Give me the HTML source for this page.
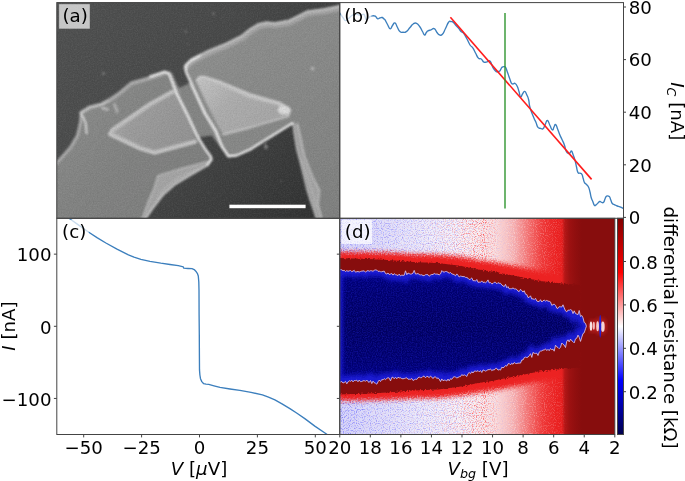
<!DOCTYPE html>
<html><head><meta charset="utf-8"><title>figure</title>
<style>
html,body{margin:0;padding:0;background:#fff;}
svg{display:block;}
text{font-family:"DejaVu Sans","Liberation Sans",sans-serif;font-size:18.2px;fill:#000;}
.it{font-style:oblique;}
</style></head><body>
<svg width="685" height="481" viewBox="0 0 685 481">
<defs>
<clipPath id="ca"><rect x="56.8" y="2.6" width="282.95" height="215.70000000000002"/></clipPath>
<clipPath id="cb"><rect x="339.75" y="2.6" width="283.75" height="215.70000000000002"/></clipPath>
<clipPath id="cc"><rect x="56.8" y="218.3" width="282.95" height="216.2"/></clipPath>
<clipPath id="cd"><rect x="339.75" y="218.3" width="275.04999999999995" height="216.2"/></clipPath>
<filter id="b1" x="-20%" y="-20%" width="140%" height="140%"><feGaussianBlur stdDeviation="0.95"/></filter>
<filter id="b2" x="-20%" y="-20%" width="140%" height="140%"><feGaussianBlur stdDeviation="1.6"/></filter>
<filter id="b4" x="-20%" y="-20%" width="140%" height="140%"><feGaussianBlur stdDeviation="4"/></filter>
</defs>
<rect width="685" height="481" fill="#fff"/>

<g clip-path="url(#ca)">
<defs>
<linearGradient id="gbg" x1="57" y1="0" x2="340" y2="218" gradientUnits="userSpaceOnUse"><stop offset="0" stop-color="#505151"/><stop offset="0.45" stop-color="#474848"/><stop offset="0.75" stop-color="#3a3b3b"/><stop offset="1" stop-color="#2e2f2f"/></linearGradient>
<linearGradient id="gel" x1="57" y1="80" x2="200" y2="218" gradientUnits="userSpaceOnUse"><stop offset="0" stop-color="#8d8e8d"/><stop offset="0.5" stop-color="#828382"/><stop offset="1" stop-color="#7c7d7c"/></linearGradient>
<linearGradient id="ger" x1="190" y1="20" x2="340" y2="218" gradientUnits="userSpaceOnUse"><stop offset="0" stop-color="#8f908f"/><stop offset="1" stop-color="#808180"/></linearGradient>
<linearGradient id="gtl" x1="110" y1="100" x2="190" y2="150" gradientUnits="userSpaceOnUse"><stop offset="0" stop-color="#acacac"/><stop offset="0.35" stop-color="#9c9c9c"/><stop offset="1" stop-color="#929292"/></linearGradient>
<linearGradient id="gtr" x1="200" y1="78" x2="260" y2="135" gradientUnits="userSpaceOnUse"><stop offset="0" stop-color="#c2c2c2"/><stop offset="0.45" stop-color="#adadad"/><stop offset="1" stop-color="#a6a6a6"/></linearGradient>
<filter id="sgr" x="0" y="0" width="100%" height="100%"><feTurbulence type="fractalNoise" baseFrequency="0.75" numOctaves="2" seed="4"/><feColorMatrix type="matrix" values="0 0 0 0 0  0 0 0 0 0  0 0 0 0 0  2.5 0 0 0 -0.9" result="n"/><feComposite in="SourceGraphic" in2="n" operator="in"/></filter>
<filter id="sgr2" x="0" y="0" width="100%" height="100%"><feTurbulence type="fractalNoise" baseFrequency="0.75" numOctaves="2" seed="14"/><feColorMatrix type="matrix" values="0 0 0 0 0  0 0 0 0 0  0 0 0 0 0  0 2.5 0 0 -0.9" result="n"/><feComposite in="SourceGraphic" in2="n" operator="in"/></filter>
</defs>
<rect x="54.8" y="0.6000000000000001" width="286.95" height="219.70000000000002" fill="url(#gbg)"/>
<g filter="url(#b1)">
<polygon points="150.0,110.0 178.3,88.3 189.9,83.0 200.0,80.0 292.0,122.0 292.0,124.0 232.0,155.0 224.0,152.0 211.6,135.5 199.9,137.0 170.0,168.0" fill="#848584"/>
<polygon points="50.0,172.0 56.0,163.0 62.0,156.0 70.0,147.0 77.0,135.0 80.0,122.0 80.6,112.2 89.9,106.6 101.7,103.4 117.8,93.8 131.4,82.0 150.0,76.6 165.0,71.6 169.5,73.5 176.6,90.0 187.4,110.0 196.6,131.6 204.9,148.3 210.7,156.6 212.0,159.5 207.6,166.0 190.0,176.3 175.5,185.0 163.8,195.3 153.6,208.4 147.0,217.9 144.5,222.0 50.0,222.0" fill="url(#gel)"/>
<polygon points="184.3,65.5 191.6,58.3 208.3,49.9 224.9,43.3 241.6,35.0 249.9,28.3 258.2,23.3 266.5,21.5 274.8,22.2 288.6,19.8 307.4,10.4 324.0,8.3 345.0,4.5 345.0,222.0 317.0,222.0 313.5,211.0 310.0,201.0 306.6,190.0 303.5,177.0 300.0,163.0 296.5,150.0 294.0,135.0 292.4,123.0 249.8,150.0 236.5,155.8 228.2,156.8 221.6,148.3 216.6,136.6 211.6,126.6 201.6,110.0 193.3,88.3 185.8,71.6" fill="url(#ger)"/>
<polygon points="211.6,158.0 212.0,159.5 207.6,166.0 190.0,176.3 175.5,185.0 163.8,195.3 153.6,208.4 147.0,217.9 144.5,222.0 139.0,222.0 142.6,217.9 148.5,201.0 154.3,188.0 158.0,175.5 182.8,168.2 207.6,161.7" fill="#a4a4a4"/>
<polyline points="139.0,222.0 142.6,217.9 148.5,201.0 154.3,188.0 158.0,175.5 182.8,168.2 207.6,161.7" fill="none" stroke="#bcbcbc" stroke-width="1.3" stroke-linecap="round" stroke-linejoin="round" opacity="1"/>
<polyline points="211.4,158.9 207.0,165.4 189.4,175.7 174.9,184.4 163.2,194.7 153.0,207.8 146.4,217.3 143.9,221.4" fill="none" stroke="#cacaca" stroke-width="1.7" stroke-linecap="round" stroke-linejoin="round" opacity="1"/>
<polyline points="200.0,168.0 180.0,177.0 166.0,187.0 157.0,199.0" fill="none" stroke="#b8b8b8" stroke-width="1.2" stroke-linecap="round" stroke-linejoin="round" opacity="1"/>
<polyline points="56.0,163.5 62.5,156.5 70.5,147.5 77.5,135.5 80.6,122.0 81.2,113.0" fill="none" stroke="#acacac" stroke-width="3.0" stroke-linecap="round" stroke-linejoin="round" opacity="1"/>
<polyline points="81.0,112.6 89.9,107.2 101.7,104.2 110.0,99.6" fill="none" stroke="#c2c2c2" stroke-width="3.2" stroke-linecap="round" stroke-linejoin="round" opacity="1"/>
<polyline points="110.0,99.8 117.8,94.6 131.4,83.4 150.0,78.0 165.0,73.0" fill="none" stroke="#acacac" stroke-width="3.8" stroke-linecap="round" stroke-linejoin="round" opacity="1"/>
<polyline points="81.2,114.0 84.0,119.0 85.8,124.0 86.6,133.3" fill="none" stroke="#dcdcdc" stroke-width="1.7" stroke-linecap="round" stroke-linejoin="round" opacity="1"/>
<polyline points="102.5,108.0 107.5,109.5" fill="none" stroke="#c2c2c2" stroke-width="2.4" stroke-linecap="round" stroke-linejoin="round" opacity="0.9"/>
<polyline points="114.5,104.5 117.2,111.8" fill="none" stroke="#bebebe" stroke-width="2.2" stroke-linecap="round" stroke-linejoin="round" opacity="0.9"/>
<polyline points="186.1,67.8 192.5,61.5 209.2,53.1 225.8,46.5 242.5,38.2 250.8,31.5 259.1,26.5 267.4,24.7 275.7,25.4 289.5,23.0 308.3,13.6 324.9,11.5 342.9,7.8" fill="none" stroke="#a6a6a6" stroke-width="5.0" stroke-linecap="round" stroke-linejoin="round" opacity="1"/>
<polyline points="185.2,65.6 191.6,59.3 208.3,50.9 224.9,44.3 241.6,36.0 249.9,29.3 258.2,24.3 266.5,22.5 274.8,23.2 288.6,20.8 307.4,11.4 324.0,9.3 342.0,5.6" fill="none" stroke="#c8c8c8" stroke-width="2.0" stroke-linecap="round" stroke-linejoin="round" opacity="1"/>
<polygon points="292.4,123.0 294.0,135.0 296.5,150.0 300.0,163.0 303.5,177.0 306.6,190.0 310.0,201.0 313.5,211.0 317.0,222.0 323.0,222.0 321.5,217.5 318.0,205.0 319.4,190.0 312.3,176.3 304.3,155.7 301.0,140.0 297.5,124.0" fill="#a2a2a2"/>
<polyline points="292.9,123.0 294.5,135.0 297.0,150.0 300.5,163.0 304.0,177.0 307.1,190.0 310.5,201.0 314.0,211.0 317.5,222.0" fill="none" stroke="#b8b8b8" stroke-width="1.4" stroke-linecap="round" stroke-linejoin="round" opacity="1"/>
<polyline points="321.5,217.5 318.0,205.0 319.4,190.0 312.3,176.3 304.3,155.7 301.0,140.0 297.5,124.0" fill="none" stroke="#c4c4c4" stroke-width="1.3" stroke-linecap="round" stroke-linejoin="round" opacity="1"/>
<polyline points="302.0,160.0 308.0,178.0 314.0,196.0 316.0,208.0" fill="none" stroke="#b6b6b6" stroke-width="1.1" stroke-linecap="round" stroke-linejoin="round" opacity="1"/>
<polyline points="203.0,110.0 212.5,127.0 217.6,137.0 222.6,148.0 228.6,155.5" fill="none" stroke="#a8a8a8" stroke-width="2.4" stroke-linecap="round" stroke-linejoin="round" opacity="1"/>
<polygon points="165.0,71.6 169.5,71.0 172.4,73.6 176.0,82.0 179.5,89.0 181.0,93.5 176.6,93.3 169.3,74.1" fill="#8e8e8e"/>
<polygon points="108.0,134.0 112.0,129.0 150.0,103.3 172.5,90.8 176.6,93.3 188.3,116.6 196.0,142.0 154.5,153.3 148.0,151.5 140.0,149.0" fill="url(#gtl)"/>
<polygon points="195.8,80.0 199.9,76.6 205.0,76.8 219.9,81.6 249.8,94.0 279.8,102.6 290.6,109.8 288.3,116.4 249.8,127.8 223.2,134.6 216.0,122.0 204.9,100.0" fill="url(#gtr)"/>
<polyline points="195.0,141.5 154.5,152.5 140.0,148.0 110.5,134.0 113.0,130.0 150.0,104.5 172.5,92.0" fill="none" stroke="#bcbcbc" stroke-width="4.2" stroke-linecap="round" stroke-linejoin="round" opacity="1"/>
<polyline points="196.0,142.0 154.5,153.3 140.0,149.0 109.0,134.5 112.0,129.0 150.0,103.3 172.5,90.8" fill="none" stroke="#cfcfcf" stroke-width="1.5" stroke-linecap="round" stroke-linejoin="round" opacity="1"/>
<polyline points="198.0,81.0 200.5,78.3 205.0,78.5 219.9,83.2 249.8,96.5 279.8,104.0 287.5,108.8" fill="none" stroke="#c0c0c0" stroke-width="3.6" stroke-linecap="round" stroke-linejoin="round" opacity="1"/>
<polyline points="197.0,80.0 199.9,76.8 205.0,77.0 219.9,81.8 249.8,94.3 279.8,102.9 290.2,110.0 288.0,116.2" fill="none" stroke="#d6d6d6" stroke-width="1.6" stroke-linecap="round" stroke-linejoin="round" opacity="1"/>
<polyline points="288.0,116.2 249.8,127.6 223.2,134.4" fill="none" stroke="#c8c8c8" stroke-width="1.6" stroke-linecap="round" stroke-linejoin="round" opacity="1"/>
<ellipse cx="284" cy="110" rx="6.2" ry="4.6" fill="#dadada"/>
<polyline points="150.0,76.6 165.0,71.6 169.3,74.1 176.6,93.3 188.3,116.6 196.6,134.9 204.9,148.3 210.9,156.6 211.6,159.5 207.6,165.2" fill="none" stroke="#f2f2f2" stroke-width="2.1" stroke-linecap="round" stroke-linejoin="round" opacity="1"/>
<polyline points="199.9,55.5 190.0,61.0 185.8,65.3 185.8,71.6 193.3,88.3 204.9,113.2 216.0,131.0 221.6,146.0 228.2,156.4 236.5,155.6 249.8,149.8 292.4,123.4" fill="none" stroke="#f2f2f2" stroke-width="2.1" stroke-linecap="round" stroke-linejoin="round" opacity="1"/>
</g>
<g filter="url(#b1)">
<circle cx="103.4" cy="73.6" r="1.5" fill="#7c7c7c"/>
<circle cx="186" cy="31.6" r="1.4" fill="#6c6c6c"/>
<circle cx="187.5" cy="44.6" r="1.0" fill="#666"/>
<circle cx="213.5" cy="13.7" r="1.5" fill="#707070"/>
<circle cx="312.6" cy="68.6" r="1.9" fill="#b4b4b4"/>
<circle cx="266" cy="147" r="2.0" fill="#808080"/>
<circle cx="265" cy="143.2" r="1.3" fill="#767676"/>
<circle cx="281" cy="181" r="1.0" fill="#5a5a5a"/>
</g>
<rect x="56.8" y="2.6" width="282.95" height="215.70000000000002" fill="#fff" filter="url(#sgr)" opacity="0.055"/>
<rect x="56.8" y="2.6" width="282.95" height="215.70000000000002" fill="#000" filter="url(#sgr2)" opacity="0.055"/>
<rect x="229.4" y="204.7" width="76.2" height="3.5" fill="#fff"/>
</g>
<defs>
<linearGradient id="hbg" x1="339.75" y1="0" x2="614.8" y2="0" gradientUnits="userSpaceOnUse">
<stop offset="0" stop-color="#d6d6fa"/><stop offset="0.15" stop-color="#e0e0fb"/><stop offset="0.3" stop-color="#ececfc"/><stop offset="0.42" stop-color="#f6f3fa"/><stop offset="0.5" stop-color="#fbf0f0"/><stop offset="0.57" stop-color="#fadede"/><stop offset="0.635" stop-color="#f6acac"/><stop offset="0.69" stop-color="#f26c6c"/><stop offset="0.74" stop-color="#ee3636"/><stop offset="0.79" stop-color="#ea2020"/><stop offset="1" stop-color="#ea1c1c"/></linearGradient>
<linearGradient id="hdk" x1="558" y1="0" x2="614.8" y2="0" gradientUnits="userSpaceOnUse">
<stop offset="0" stop-color="#870d0d" stop-opacity="0"/><stop offset="0.07" stop-color="#870d0d" stop-opacity="0.05"/><stop offset="0.12" stop-color="#870d0d" stop-opacity="0.55"/><stop offset="0.2" stop-color="#870d0d" stop-opacity="0.78"/><stop offset="0.3" stop-color="#870d0d" stop-opacity="0.9"/><stop offset="0.42" stop-color="#870d0d" stop-opacity="1"/><stop offset="1" stop-color="#870d0d" stop-opacity="1"/></linearGradient>
<linearGradient id="hbl" x1="0" y1="270" x2="0" y2="382.4" gradientUnits="userSpaceOnUse">
<stop offset="0" stop-color="#000080"/><stop offset="0.2" stop-color="#00006c"/><stop offset="0.5" stop-color="#00005e"/><stop offset="0.8" stop-color="#00006c"/><stop offset="1" stop-color="#000080"/></linearGradient>
<linearGradient id="cbar" x1="0" y1="434.5" x2="0" y2="218.3" gradientUnits="userSpaceOnUse">
<stop offset="0" stop-color="#00004c"/><stop offset="0.25" stop-color="#0000ff"/><stop offset="0.5" stop-color="#ffffff"/><stop offset="0.75" stop-color="#ff0000"/><stop offset="1" stop-color="#800000"/></linearGradient>
<filter id="nz1" x="0" y="0" width="100%" height="100%"><feTurbulence type="fractalNoise" baseFrequency="0.85" numOctaves="1" seed="5"/><feColorMatrix type="matrix" values="0 0 0 0 0  0 0 0 0 0  0 0 0 0 0  3.2 0 0 0 -1.55" result="n"/><feComposite in="SourceGraphic" in2="n" operator="in"/></filter>
<filter id="nz2" x="0" y="0" width="100%" height="100%"><feTurbulence type="fractalNoise" baseFrequency="0.9" numOctaves="1" seed="11"/><feColorMatrix type="matrix" values="0 0 0 0 0  0 0 0 0 0  0 0 0 0 0  0 3.2 0 0 -1.55" result="n"/><feComposite in="SourceGraphic" in2="n" operator="in"/></filter>
<linearGradient id="nzb" x1="339.75" y1="0" x2="614.8" y2="0" gradientUnits="userSpaceOnUse"><stop offset="0" stop-color="#7070ff" stop-opacity="1"/><stop offset="0.12" stop-color="#8080ff" stop-opacity="0.75"/><stop offset="0.4" stop-color="#8888ff" stop-opacity="0.6"/><stop offset="0.6" stop-color="#9090ff" stop-opacity="0.2"/><stop offset="0.7" stop-color="#9090ff" stop-opacity="0"/></linearGradient>
<linearGradient id="nzr" x1="339.75" y1="0" x2="614.8" y2="0" gradientUnits="userSpaceOnUse"><stop offset="0" stop-color="#ff5050" stop-opacity="0.06"/><stop offset="0.3" stop-color="#ff4040" stop-opacity="0.18"/><stop offset="0.42" stop-color="#ff3838" stop-opacity="0.4"/><stop offset="0.52" stop-color="#ff3030" stop-opacity="0.85"/><stop offset="0.62" stop-color="#ffffff" stop-opacity="0.45"/><stop offset="0.8" stop-color="#ffffff" stop-opacity="0.22"/><stop offset="0.84" stop-color="#ffffff" stop-opacity="0"/></linearGradient>
<filter id="hb3" x="-10%" y="-10%" width="120%" height="120%"><feGaussianBlur stdDeviation="2.0" result="g"/><feTurbulence type="fractalNoise" baseFrequency="0.7" numOctaves="1" seed="2" result="t"/><feDisplacementMap in="g" in2="t" scale="7" xChannelSelector="R" yChannelSelector="G"/></filter>
<filter id="hb1" x="-10%" y="-10%" width="120%" height="120%"><feGaussianBlur stdDeviation="0.7" result="g"/><feTurbulence type="fractalNoise" baseFrequency="0.6" numOctaves="1" seed="9" result="t"/><feDisplacementMap in="g" in2="t" scale="4.5" xChannelSelector="R" yChannelSelector="G"/></filter>
<filter id="hbr" x="-5%" y="-10%" width="110%" height="120%"><feGaussianBlur stdDeviation="2.2"/></filter>
<filter id="nz3" x="0" y="0" width="100%" height="100%"><feTurbulence type="fractalNoise" baseFrequency="0.8" numOctaves="1" seed="21"/><feColorMatrix type="matrix" values="0 0 0 0 0  0 0 0 0 0  0 0 0 0 0  0 0 2.6 0 -1.0" result="n"/><feComposite in="SourceGraphic" in2="n" operator="in"/></filter>
</defs>
<g clip-path="url(#cd)">
<rect x="339.75" y="218.3" width="275.04999999999995" height="216.2" fill="url(#hbg)"/>
<rect x="339.75" y="218.3" width="275.04999999999995" height="216.2" fill="url(#nzb)" filter="url(#nz1)"/>
<rect x="339.75" y="218.3" width="275.04999999999995" height="216.2" fill="url(#nzr)" filter="url(#nz2)"/>
<polygon points="338.0,251.7 363.0,252.0 388.0,252.6 413.0,254.0 438.0,254.4 463.0,257.1 478.0,260.0 490.5,261.5 503.0,263.6 515.5,265.9 528.0,268.4 540.5,270.9 553.0,272.2 563.0,273.4 575.0,274.3 580.0,276.0 580.0,376.4 575.0,378.1 563.0,379.0 553.0,380.2 540.5,381.5 528.0,384.0 515.5,386.5 503.0,388.8 490.5,390.9 478.0,392.4 463.0,395.3 438.0,398.0 413.0,398.4 388.0,399.8 363.0,400.4 338.0,400.7" fill="#ec2424" filter="url(#hb3)"/>
<polygon points="338.0,257.9 363.0,258.7 388.0,259.9 413.0,261.9 438.0,262.9 463.0,266.2 478.0,269.4 490.5,271.2 503.0,273.6 515.5,276.1 528.0,278.6 540.5,281.1 553.0,282.4 563.0,283.6 575.0,284.5 580.0,285.0 580.0,367.4 575.0,367.9 563.0,368.8 553.0,370.0 540.5,371.3 528.0,373.8 515.5,376.3 503.0,378.8 490.5,381.2 478.0,383.0 463.0,386.2 438.0,389.5 413.0,390.5 388.0,392.5 363.0,393.7 338.0,394.5" fill="#870d0d" filter="url(#hb1)"/>
<rect x="558" y="218.3" width="56.799999999999955" height="216.2" fill="url(#hdk)"/>
<defs><polygon id="bp" points="338.0,270.0 339.2,268.4 340.5,269.6 341.8,269.8 343.0,270.8 344.2,270.3 345.5,271.5 346.8,270.6 348.0,271.3 349.2,270.9 350.5,270.5 351.8,271.7 353.0,271.1 354.2,270.3 355.5,272.2 356.8,271.7 358.0,271.5 359.2,272.0 360.5,271.5 361.8,271.1 363.0,271.0 364.2,270.8 365.5,272.2 366.8,271.1 368.0,270.5 369.2,271.3 370.5,270.7 371.8,270.8 373.0,271.3 374.2,270.3 375.5,269.9 376.8,270.1 378.0,271.4 379.2,271.2 380.5,271.7 381.8,271.8 383.0,271.4 384.2,271.1 385.5,273.5 386.8,274.0 388.0,273.0 389.2,274.5 390.5,274.0 391.8,273.5 393.0,275.1 394.2,273.7 395.5,274.7 396.8,274.9 398.0,275.6 399.2,274.1 400.5,275.9 401.8,275.1 403.0,275.3 404.2,275.3 405.5,270.8 406.8,274.8 408.0,273.0 409.2,273.6 410.5,274.1 411.8,273.9 413.0,273.1 414.2,270.4 415.5,274.0 416.8,273.9 418.0,273.5 419.2,274.5 420.5,274.9 421.8,274.8 423.0,275.6 424.2,275.6 425.5,274.7 426.8,274.6 428.0,274.7 429.2,276.2 430.5,275.1 431.8,274.5 433.0,274.5 434.2,273.5 435.5,274.1 436.8,274.1 438.0,274.2 439.2,274.9 440.5,273.9 441.8,270.6 443.0,271.8 444.2,272.1 445.5,271.5 446.8,271.6 448.0,272.4 449.2,273.2 450.5,272.5 451.8,273.9 453.0,274.2 454.2,274.7 455.5,275.8 456.8,273.9 458.0,275.3 459.2,277.0 460.5,276.1 461.8,276.4 463.0,276.7 464.2,276.5 465.5,277.4 466.8,277.5 468.0,278.2 469.2,279.5 470.5,279.1 471.8,277.9 473.0,280.7 474.2,280.6 475.5,281.1 476.8,279.5 478.0,282.3 479.2,282.1 480.5,282.3 481.8,280.9 483.0,282.5 484.2,282.1 485.5,282.8 486.8,281.8 488.0,279.9 489.2,282.9 490.5,282.6 491.8,283.8 493.0,283.5 494.2,282.3 495.5,282.3 496.8,283.8 498.0,282.6 499.2,283.3 500.5,283.3 501.8,285.0 503.0,285.8 504.2,286.7 505.5,284.3 506.8,287.8 508.0,286.6 509.2,288.8 510.5,288.7 511.8,288.7 513.0,287.9 514.2,288.9 515.5,288.9 516.8,289.5 518.0,291.1 519.2,291.6 520.5,289.3 521.8,290.7 523.0,292.1 524.2,290.7 525.5,294.2 526.8,294.5 528.0,297.5 529.2,297.4 530.5,295.8 531.8,299.1 533.0,298.7 534.2,299.7 535.5,298.3 536.8,301.0 538.0,301.6 539.2,301.5 540.5,299.7 541.8,302.0 543.0,300.8 544.2,300.1 545.5,301.1 546.8,300.4 548.0,301.2 549.2,301.3 550.5,301.9 551.8,305.5 553.0,304.5 554.2,304.2 555.5,305.3 556.8,308.2 558.0,308.4 559.2,306.7 560.5,306.8 561.8,307.0 563.0,304.8 564.2,307.9 565.5,310.9 566.8,311.9 568.0,310.1 569.2,310.3 570.5,309.6 571.8,310.3 573.0,313.6 574.2,310.8 575.5,313.5 576.8,314.1 578.0,314.6 579.2,310.5 580.5,316.5 581.8,315.5 583.0,317.8 584.2,322.5 585.5,323.3 586.4,326.2 585.5,328.8 584.2,332.8 583.0,333.5 581.8,337.1 580.5,341.4 579.2,337.2 578.0,335.1 576.8,338.2 575.5,338.8 574.2,342.9 573.0,341.6 571.8,340.8 570.5,339.1 569.2,341.9 568.0,339.8 566.8,341.2 565.5,347.5 564.2,345.1 563.0,344.3 561.8,343.0 560.5,347.2 559.2,348.7 558.0,347.5 556.8,346.8 555.5,345.2 554.2,351.2 553.0,349.1 551.8,349.7 550.5,348.5 549.2,350.7 548.0,349.3 546.8,350.6 545.5,348.9 544.2,350.0 543.0,350.0 541.8,350.9 540.5,351.1 539.2,352.1 538.0,355.5 536.8,353.2 535.5,353.4 534.2,353.3 533.0,352.4 531.8,357.4 530.5,353.7 529.2,355.8 528.0,357.1 526.8,357.5 525.5,357.1 524.2,357.7 523.0,360.0 521.8,359.9 520.5,363.1 519.2,363.1 518.0,363.1 516.8,363.5 515.5,363.4 514.2,362.5 513.0,364.3 511.8,363.2 510.5,364.9 509.2,363.4 508.0,363.9 506.8,366.2 505.5,365.5 504.2,367.2 503.0,367.8 501.8,367.2 500.5,370.1 499.2,369.5 498.0,370.2 496.8,368.4 495.5,368.4 494.2,370.1 493.0,369.7 491.8,370.7 490.5,368.9 489.2,369.8 488.0,369.6 486.8,370.5 485.5,371.1 484.2,370.4 483.0,369.9 481.8,372.5 480.5,370.6 479.2,371.8 478.0,370.6 476.8,371.4 475.5,371.1 474.2,371.2 473.0,373.0 471.8,371.7 470.5,373.7 469.2,372.5 468.0,373.6 466.8,376.5 465.5,375.5 464.2,374.8 463.0,375.6 461.8,374.5 460.5,376.6 459.2,376.7 458.0,377.5 456.8,377.9 455.5,377.1 454.2,376.7 453.0,377.4 451.8,379.3 450.5,378.7 449.2,380.9 448.0,379.0 446.8,381.0 445.5,380.3 444.2,380.1 443.0,380.7 441.8,378.9 440.5,381.6 439.2,379.0 438.0,377.9 436.8,378.5 435.5,376.8 434.2,377.0 433.0,378.6 431.8,377.1 430.5,376.0 429.2,377.7 428.0,376.6 426.8,376.3 425.5,377.8 424.2,376.2 423.0,376.3 421.8,377.6 420.5,377.7 419.2,377.1 418.0,377.7 416.8,379.4 415.5,379.2 414.2,379.8 413.0,380.5 411.8,378.5 410.5,379.3 409.2,379.2 408.0,379.2 406.8,377.8 405.5,378.1 404.2,378.5 403.0,378.8 401.8,378.6 400.5,377.8 399.2,377.9 398.0,377.2 396.8,378.8 395.5,377.2 394.2,378.8 393.0,377.2 391.8,377.4 390.5,380.9 389.2,378.1 388.0,377.7 386.8,378.4 385.5,379.6 384.2,378.6 383.0,379.9 381.8,379.5 380.5,381.5 379.2,380.1 378.0,381.8 376.8,384.2 375.5,383.2 374.2,382.7 373.0,381.1 371.8,383.6 370.5,380.5 369.2,382.4 368.0,381.7 366.8,380.0 365.5,381.3 364.2,380.6 363.0,380.8 361.8,381.5 360.5,381.7 359.2,380.0 358.0,381.8 356.8,380.2 355.5,380.6 354.2,380.5 353.0,381.9 351.8,380.2 350.5,381.3 349.2,380.7 348.0,381.9 346.8,383.8 345.5,381.4 344.2,382.5 343.0,383.0 341.8,381.5 340.5,382.0 339.2,382.9 338.0,383.5"/><clipPath id="cblue"><use href="#bp"/></clipPath></defs>
<use href="#bp" fill="url(#hbl)"/>
<g clip-path="url(#cblue)"><use href="#bp" fill="none" stroke="#1a1ad8" stroke-width="9" filter="url(#hbr)" opacity="0.95"/></g>
<use href="#bp" fill="#2424d8" filter="url(#nz3)" opacity="0.4"/>
<use href="#bp" fill="none" stroke="#e0bcd8" stroke-width="0.9" stroke-linejoin="round"/>
<ellipse cx="592.3" cy="326.2" rx="3.6" ry="6.5" fill="#e43030" opacity="0.55" filter="url(#hbr)"/>
<ellipse cx="600.5" cy="326.2" rx="6" ry="8" fill="#e43030" opacity="0.6" filter="url(#hbr)"/>
<ellipse cx="591.0" cy="326.2" rx="1.3" ry="4.6" fill="#f8e2e2"/>
<ellipse cx="593.8" cy="325.7" rx="1.1" ry="4.0" fill="#f2bcbc"/>
<ellipse cx="597.6" cy="326.2" rx="1.4" ry="5.0" fill="#f4cccc"/>
<ellipse cx="602.8" cy="326.8" rx="1.9" ry="5.2" fill="#f6d4d4"/>
<ellipse cx="600.2" cy="326.2" rx="1.05" ry="11.5" fill="#2020d8"/>
</g>
<rect x="617.5" y="218.3" width="6.0" height="216.2" fill="url(#cbar)"/>
<g clip-path="url(#cb)">
<rect x="339.75" y="2.6" width="283.75" height="215.70000000000002" fill="#fff"/>
<path d="M339.5 12.6 C339.7 13.0 339.5 12.7 340.4 14.0 C341.3 15.3 341.6 15.8 343.0 17.6 C344.4 19.4 344.0 20.4 345.5 20.6 C347.0 20.8 346.9 19.7 348.5 18.4 C350.1 17.1 350.1 16.8 351.6 15.8 C353.1 14.8 352.7 15.1 354.0 14.6 C355.3 14.1 355.3 13.9 356.5 14.0 C357.7 14.1 357.5 14.6 358.5 14.9 C359.5 15.2 359.4 15.4 360.4 15.3 C361.4 15.2 361.3 14.8 362.2 14.6 C363.1 14.4 363.2 13.9 363.9 14.4 C364.6 14.9 364.4 15.2 365.0 16.6 C365.6 18.0 365.3 19.2 366.1 19.7 C366.9 20.2 367.0 19.2 368.0 18.4 C369.0 17.6 368.7 17.3 370.0 16.6 C371.3 15.9 371.3 15.9 372.7 15.8 C374.1 15.7 374.3 15.7 375.3 16.2 C376.3 16.7 375.9 17.0 376.6 17.7 C377.3 18.4 377.0 18.7 377.9 18.8 C378.8 18.9 378.8 18.2 380.0 17.9 C381.2 17.6 381.3 17.3 382.3 17.5 C383.3 17.7 382.9 18.2 383.6 18.8 C384.3 19.4 383.9 18.2 384.9 19.7 C385.9 21.2 386.1 22.0 387.5 24.5 C388.9 27.0 388.9 28.6 390.2 28.9 C391.5 29.2 391.2 27.1 392.5 25.5 C393.8 23.9 393.6 22.4 394.9 22.9 C396.2 23.4 396.2 25.2 397.5 27.5 C398.8 29.8 398.4 30.3 399.9 31.6 C401.4 32.9 401.3 32.2 403.0 32.2 C404.7 32.2 404.4 32.9 406.3 31.6 C408.2 30.3 408.2 29.5 410.0 27.5 C411.8 25.5 411.4 25.1 413.2 24.0 C415.0 22.9 414.8 22.5 416.6 23.3 C418.4 24.1 418.4 24.8 420.0 27.0 C421.6 29.2 421.3 29.4 422.5 31.5 C423.7 33.6 423.6 34.7 424.6 35.0 C425.6 35.3 425.4 33.6 426.3 32.5 C427.2 31.4 426.7 31.6 428.0 30.9 C429.3 30.2 429.3 30.4 431.0 29.8 C432.7 29.2 432.6 27.9 434.2 28.6 C435.8 29.3 435.6 30.8 437.0 32.5 C438.4 34.2 438.1 34.3 439.5 34.8 C440.9 35.3 440.8 36.0 442.4 34.3 C444.0 32.6 443.8 31.7 445.5 28.5 C447.2 25.3 447.1 24.0 448.6 22.2 C450.1 20.4 449.8 21.6 451.0 21.6 C452.2 21.6 451.9 21.2 453.2 22.2 C454.5 23.2 454.5 23.8 456.0 25.5 C457.5 27.2 457.6 27.0 458.9 28.6 C460.2 30.2 459.8 30.2 461.0 31.4 C462.2 32.6 461.9 31.2 463.5 33.2 C465.1 35.2 465.3 35.9 467.0 39.0 C468.7 42.1 468.5 42.7 470.0 45.0 C471.5 47.3 471.3 45.7 472.8 47.8 C474.3 49.9 474.0 50.3 475.5 53.0 C477.0 55.7 476.9 56.5 478.4 58.1 C479.9 59.7 479.7 57.9 481.2 59.0 C482.7 60.1 482.5 61.5 484.0 62.2 C485.5 62.9 485.5 62.1 487.0 61.8 C488.5 61.5 488.5 60.3 489.7 60.9 C490.9 61.5 490.5 62.0 491.5 64.0 C492.5 66.0 492.1 66.4 493.4 68.4 C494.7 70.4 494.8 70.8 496.2 71.6 C497.6 72.4 497.5 71.6 498.5 71.4 C499.5 71.2 499.3 71.6 500.0 70.8 C500.7 70.0 500.6 69.5 501.2 68.5 C501.8 67.5 501.5 67.6 502.2 67.1 C502.9 66.6 503.1 66.5 504.0 66.6 C504.9 66.7 504.8 66.2 505.6 67.4 C506.4 68.6 506.3 69.0 507.0 71.0 C507.7 73.0 507.6 72.6 508.4 74.9 C509.2 77.2 509.1 77.2 510.0 79.5 C510.9 81.8 510.7 82.3 511.6 83.4 C512.5 84.5 512.4 83.8 513.3 83.8 C514.2 83.8 513.9 82.8 514.9 83.4 C515.9 84.0 516.1 84.0 517.2 86.2 C518.3 88.4 518.1 88.6 519.0 91.5 C519.9 94.4 519.6 96.3 520.5 97.0 C521.4 97.7 521.4 95.5 522.5 94.0 C523.6 92.5 523.5 91.0 524.7 91.4 C525.9 91.8 526.0 93.2 527.1 95.5 C528.2 97.8 527.9 96.8 528.7 100.0 C529.5 103.2 528.7 102.8 530.0 107.5 C531.3 112.2 532.1 113.5 533.7 117.5 C535.3 121.5 534.9 119.9 536.0 122.5 C537.1 125.1 536.8 125.9 538.0 127.4 C539.2 128.9 539.2 128.0 540.5 128.3 C541.8 128.6 541.7 129.7 543.0 128.7 C544.3 127.7 544.0 126.7 545.2 124.5 C546.4 122.3 546.1 120.2 547.4 120.5 C548.7 120.8 548.7 123.0 550.0 125.5 C551.3 128.0 551.3 129.5 552.4 129.9 C553.5 130.3 553.1 128.4 554.0 127.0 C554.9 125.6 554.7 123.8 555.7 124.5 C556.7 125.2 556.7 126.7 557.8 129.5 C558.9 132.3 558.8 132.2 559.9 134.9 C561.0 137.6 560.8 136.8 562.0 139.5 C563.2 142.2 563.3 141.8 564.4 144.9 C565.5 148.0 565.1 148.8 566.2 151.1 C567.3 153.4 567.6 153.2 568.7 153.6 C569.8 154.0 569.4 153.3 570.2 152.6 C571.0 151.9 570.8 150.5 571.6 151.1 C572.4 151.7 572.3 152.7 573.2 155.0 C574.1 157.3 574.0 156.8 574.9 159.9 C575.8 163.0 575.6 163.2 576.4 166.5 C577.2 169.8 576.9 170.6 577.9 172.4 C578.9 174.2 578.9 172.7 580.0 173.2 C581.1 173.7 581.0 173.0 581.9 174.4 C582.8 175.8 582.5 176.4 583.2 178.5 C583.9 180.6 583.5 180.7 584.4 182.3 C585.3 183.9 585.4 183.2 586.5 184.5 C587.6 185.8 587.7 185.3 588.6 187.3 C589.5 189.3 589.3 189.3 590.0 192.0 C590.7 194.7 590.4 194.8 591.1 197.3 C591.8 199.8 591.9 199.4 592.8 201.5 C593.7 203.6 593.5 204.4 594.4 205.3 C595.3 206.2 595.1 205.4 596.1 204.8 C597.1 204.2 597.0 203.9 598.0 203.0 C599.0 202.1 598.8 201.7 599.8 201.5 C600.8 201.3 600.7 202.2 601.7 202.4 C602.7 202.6 602.7 203.2 603.6 202.3 C604.5 201.4 604.2 200.7 605.0 199.0 C605.8 197.3 605.5 196.7 606.6 196.1 C607.7 195.5 608.2 195.6 609.3 196.6 C610.4 197.6 610.0 198.2 610.8 200.0 C611.6 201.8 611.2 202.2 612.3 203.5 C613.4 204.8 613.5 204.1 614.8 204.8 C616.1 205.5 615.9 205.5 617.3 206.0 C618.7 206.5 618.3 206.1 620.0 206.8 C621.7 207.5 622.6 208.1 623.6 208.6" fill="none" stroke="#3c7fbd" stroke-width="1.35" stroke-linejoin="round"/>
<line x1="450.4" y1="17.2" x2="591.6" y2="179.4" stroke="#ff1c1c" stroke-width="1.6"/>
<line x1="505" y1="13" x2="505" y2="208.6" stroke="#2f952f" stroke-width="1.4"/>
</g>
<g clip-path="url(#cc)">
<rect x="56.8" y="218.3" width="282.95" height="216.2" fill="#fff"/>
<path d="M57.0 209.5 L69.7 218.7 L78.0 224.6 L88.4 232.0 L97.0 237.6 L105.9 243.0 L117.0 249.2 L128.4 254.9 L134.0 257.2 L140.9 259.4 L150.0 261.4 L160.8 263.2 L170.0 264.5 L178.3 265.7 L183.3 266.9 L183.8 268.2 L188.0 268.5 L192.0 268.7 L194.2 269.6 L195.8 271.2 L197.3 273.3 L198.3 276.1 L198.8 282.0 L199.0 289.9 L199.1 314.8 L199.3 334.8 L199.4 355.0 L199.5 369.9 L199.9 375.0 L200.5 378.7 L201.8 381.6 L203.7 383.7 L206.0 384.2 L208.7 384.4 L214.0 385.8 L220.0 387.4 L230.0 389.0 L239.9 390.4 L251.0 392.4 L262.4 394.9 L268.5 397.1 L274.9 399.9 L282.0 403.8 L289.9 408.6 L297.0 413.3 L304.8 418.6 L314.8 426.1 L326.8 434.3 L333.0 439.0" fill="none" stroke="#3c7fbd" stroke-width="1.35" stroke-linejoin="round"/>
</g>
<rect x="59.3" y="4.4" width="30.2" height="24.0" fill="#fff" fill-opacity="0.68" stroke="#fff" stroke-opacity="0.3" stroke-width="1"/>
<text x="62.5" y="22.2">(a)</text>
<rect x="340.8" y="3.8" width="30.6" height="24.8" fill="#fff" fill-opacity="0.72" stroke="#fff" stroke-opacity="0" stroke-width="1"/>
<text x="344.3" y="22.0">(b)</text>
<rect x="58.9" y="219.8" width="29.8" height="24.4" fill="#fff" fill-opacity="0.72" stroke="#fff" stroke-opacity="0" stroke-width="1"/>
<text x="62.1" y="237.8">(c)</text>
<rect x="341.5" y="219.8" width="30.5" height="24.2" fill="#fff" fill-opacity="0.72" stroke="#fff" stroke-opacity="0" stroke-width="1"/>
<text x="344.8" y="237.8">(d)</text>
<rect x="56.8" y="2.6" width="282.95" height="215.70000000000002" fill="none" stroke="#444" stroke-width="1"/>
<rect x="339.75" y="2.6" width="283.75" height="215.70000000000002" fill="none" stroke="#444" stroke-width="1"/>
<rect x="56.8" y="218.3" width="282.95" height="216.2" fill="none" stroke="#444" stroke-width="1"/>
<rect x="339.75" y="218.3" width="275.04999999999995" height="216.2" fill="none" stroke="#444" stroke-width="1"/>
<rect x="617.5" y="218.3" width="6.0" height="216.2" fill="none" stroke="#444" stroke-width="1"/>
<line x1="623.5" y1="217.4" x2="626.0" y2="217.4" stroke="#444" stroke-width="1"/>
<text x="628.8" y="224.1">0</text>
<line x1="623.5" y1="164.8" x2="626.0" y2="164.8" stroke="#444" stroke-width="1"/>
<text x="628.8" y="171.5">20</text>
<line x1="623.5" y1="112.2" x2="626.0" y2="112.2" stroke="#444" stroke-width="1"/>
<text x="628.8" y="118.9">40</text>
<line x1="623.5" y1="59.599999999999994" x2="626.0" y2="59.599999999999994" stroke="#444" stroke-width="1"/>
<text x="628.8" y="66.3">60</text>
<line x1="623.5" y1="7.0" x2="626.0" y2="7.0" stroke="#444" stroke-width="1"/>
<text x="628.8" y="13.7">80</text>
<line x1="53.9" y1="254.15" x2="56.8" y2="254.15" stroke="#444" stroke-width="1"/>
<line x1="336.85" y1="254.15" x2="339.75" y2="254.15" stroke="#444" stroke-width="1"/>
<text x="51.5" y="261.4" text-anchor="end">100</text>
<line x1="53.9" y1="326.3" x2="56.8" y2="326.3" stroke="#444" stroke-width="1"/>
<line x1="336.85" y1="326.3" x2="339.75" y2="326.3" stroke="#444" stroke-width="1"/>
<text x="51.5" y="333.6" text-anchor="end">0</text>
<line x1="53.9" y1="398.45000000000005" x2="56.8" y2="398.45000000000005" stroke="#444" stroke-width="1"/>
<line x1="336.85" y1="398.45000000000005" x2="339.75" y2="398.45000000000005" stroke="#444" stroke-width="1"/>
<text x="51.5" y="405.8" text-anchor="end">−100</text>
<line x1="83.7" y1="434.5" x2="83.7" y2="437.4" stroke="#444" stroke-width="1"/>
<text x="83.7" y="454.2" text-anchor="middle">−50</text>
<line x1="141.6" y1="434.5" x2="141.6" y2="437.4" stroke="#444" stroke-width="1"/>
<text x="141.6" y="454.2" text-anchor="middle">−25</text>
<line x1="199.5" y1="434.5" x2="199.5" y2="437.4" stroke="#444" stroke-width="1"/>
<text x="199.5" y="454.2" text-anchor="middle">0</text>
<line x1="257.4" y1="434.5" x2="257.4" y2="437.4" stroke="#444" stroke-width="1"/>
<text x="257.4" y="454.2" text-anchor="middle">25</text>
<line x1="315.3" y1="434.5" x2="315.3" y2="437.4" stroke="#444" stroke-width="1"/>
<text x="315.3" y="454.2" text-anchor="middle">50</text>
<line x1="339.75" y1="434.5" x2="339.75" y2="437.4" stroke="#444" stroke-width="1"/>
<text x="339.8" y="454.2" text-anchor="middle">20</text>
<line x1="370.31111111111113" y1="434.5" x2="370.31111111111113" y2="437.4" stroke="#444" stroke-width="1"/>
<text x="370.3" y="454.2" text-anchor="middle">18</text>
<line x1="400.8722222222222" y1="434.5" x2="400.8722222222222" y2="437.4" stroke="#444" stroke-width="1"/>
<text x="400.9" y="454.2" text-anchor="middle">16</text>
<line x1="431.43333333333334" y1="434.5" x2="431.43333333333334" y2="437.4" stroke="#444" stroke-width="1"/>
<text x="431.4" y="454.2" text-anchor="middle">14</text>
<line x1="461.9944444444444" y1="434.5" x2="461.9944444444444" y2="437.4" stroke="#444" stroke-width="1"/>
<text x="462.0" y="454.2" text-anchor="middle">12</text>
<line x1="492.55555555555554" y1="434.5" x2="492.55555555555554" y2="437.4" stroke="#444" stroke-width="1"/>
<text x="492.6" y="454.2" text-anchor="middle">10</text>
<line x1="523.1166666666667" y1="434.5" x2="523.1166666666667" y2="437.4" stroke="#444" stroke-width="1"/>
<text x="523.1" y="454.2" text-anchor="middle">8</text>
<line x1="553.6777777777777" y1="434.5" x2="553.6777777777777" y2="437.4" stroke="#444" stroke-width="1"/>
<text x="553.7" y="454.2" text-anchor="middle">6</text>
<line x1="584.2388888888888" y1="434.5" x2="584.2388888888888" y2="437.4" stroke="#444" stroke-width="1"/>
<text x="584.2" y="454.2" text-anchor="middle">4</text>
<line x1="614.8" y1="434.5" x2="614.8" y2="437.4" stroke="#444" stroke-width="1"/>
<text x="614.8" y="454.2" text-anchor="middle">2</text>
<line x1="623.5" y1="391.70000000000005" x2="626.0" y2="391.70000000000005" stroke="#444" stroke-width="1"/>
<text x="628.8" y="398.7">0.2</text>
<line x1="623.5" y1="348.3" x2="626.0" y2="348.3" stroke="#444" stroke-width="1"/>
<text x="628.8" y="355.3">0.4</text>
<line x1="623.5" y1="304.90000000000003" x2="626.0" y2="304.90000000000003" stroke="#444" stroke-width="1"/>
<text x="628.8" y="311.9">0.6</text>
<line x1="623.5" y1="261.5" x2="626.0" y2="261.5" stroke="#444" stroke-width="1"/>
<text x="628.8" y="268.5">0.8</text>
<text x="199" y="475" text-anchor="middle"><tspan class="it">V</tspan> [<tspan class="it">µ</tspan>V]</text>
<text x="478" y="475" text-anchor="middle"><tspan class="it">V</tspan><tspan class="it" font-size="12.7" dy="3.2">bg</tspan><tspan dy="-3.2"> [V]</tspan></text>
<text transform="translate(15.2,326) rotate(-90)" text-anchor="middle"><tspan class="it">I</tspan> [nA]</text>
<text transform="translate(671.2,111.3) rotate(90)" text-anchor="middle"><tspan class="it">I</tspan><tspan class="it" font-size="12.7" dy="3.8">C</tspan><tspan dy="-3.8"> [nA]</tspan></text>
<text transform="translate(663.5,327.5) rotate(90)" text-anchor="middle">differential resistance [kΩ]</text>
</svg></body></html>
